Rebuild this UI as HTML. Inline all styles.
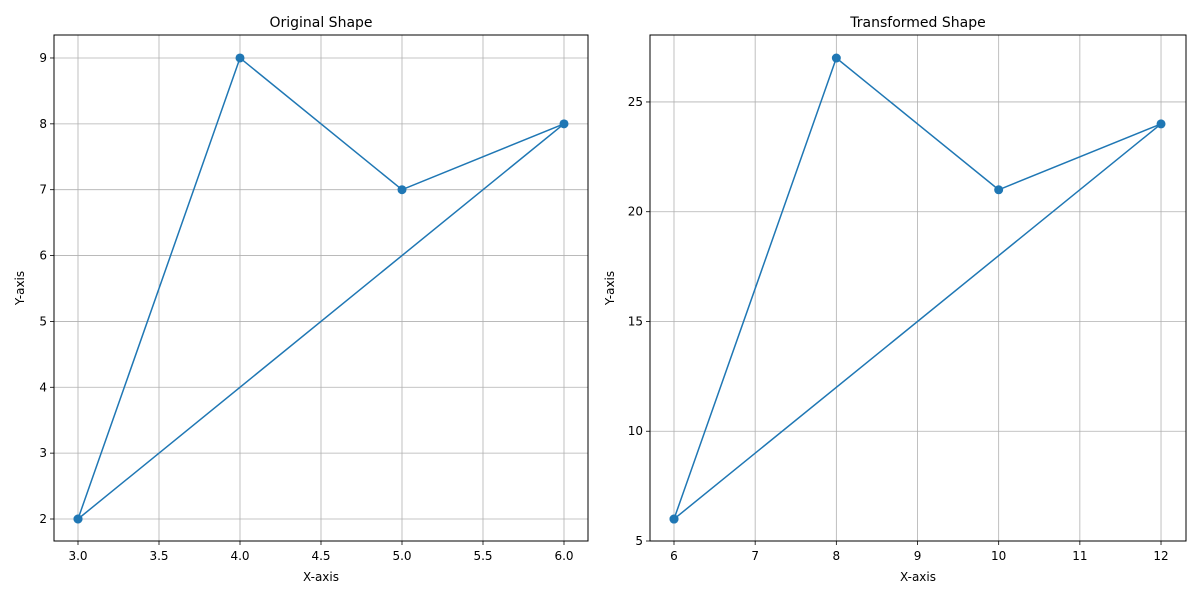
<!DOCTYPE html>
<html><head><meta charset="utf-8"><style>
body{margin:0;background:#fff;font-family:"Liberation Sans","DejaVu Sans",sans-serif;}
svg text{font-family:"DejaVu Sans","Liberation Sans",sans-serif;fill:#000;}
</style></head><body>
<svg id="c" width="1200" height="600"></svg>
<script>
const shapeX=[3,4,5,6,3];
const shapeY=[2,9,7,8,2];
const transX=[6,8,10,12,6];
const transY=[6,27,21,24,6];
const leftXTicks=[3.0,3.5,4.0,4.5,5.0,5.5,6.0];
const leftYTicks=[2,3,4,5,6,7,8,9];
const rightXTicks=[6,7,8,9,10,11,12];
const rightYTicks=[5,10,15,20,25];
const svg=document.getElementById('c');
const NS='http://www.w3.org/2000/svg';
function mk(t,a,p){const e=document.createElementNS(NS,t);for(const k in a)e.setAttribute(k,a[k]);p.appendChild(e);return e;}
function panel(name,title,xs,ys,xt,yt,box,xd,yd,xfmt){
 const g=mk('g',{},svg);
 
 
 const sx=v=>box.l+(v-xd[0])/(xd[1]-xd[0])*(box.r-box.l);
 const sy=v=>box.b-(v-yd[0])/(yd[1]-yd[0])*(box.b-box.t);
 xt.forEach(v=>{const x=sx(v);
  const l=mk('line',{x1:x,x2:x,y1:box.t,y2:box.b,stroke:'#b0b0b0','stroke-width':0.8},g);
  
  mk('line',{x1:x,x2:x,y1:box.b,y2:box.b+4,stroke:'#000','stroke-width':0.8},g);
  const t=mk('text',{x:x,y:box.b+19,'text-anchor':'middle','font-size':12},g);t.textContent=xfmt(v);
  });
 yt.forEach(v=>{const y=sy(v);
  const l=mk('line',{x1:box.l,x2:box.r,y1:y,y2:y,stroke:'#b0b0b0','stroke-width':0.8},g);
  
  mk('line',{x1:box.l-4,x2:box.l,y1:y,y2:y,stroke:'#000','stroke-width':0.8},g);
  const t=mk('text',{x:box.l-7,y:y+4,'text-anchor':'end','font-size':12},g);t.textContent=v;
  });
 const pts=xs.map((v,i)=>sx(v)+','+sy(ys[i])).join(' ');
 const pl=mk('polyline',{points:pts,fill:'none',stroke:'#1f77b4','stroke-width':1.5},g);
 
 xs.forEach((v,i)=>{const c=mk('circle',{cx:sx(v),cy:sy(ys[i]),r:4.5,fill:'#1f77b4'},g);
  });
 mk('rect',{x:box.l,y:box.t,width:box.r-box.l,height:box.b-box.t,fill:'none',stroke:'#000','stroke-width':1},g);
 const ti=mk('text',{x:(box.l+box.r)/2,y:box.t-8,'text-anchor':'middle','font-size':14},g);ti.textContent=title;
 
 const xl=mk('text',{x:(box.l+box.r)/2,y:box.b+40,'text-anchor':'middle','font-size':12},g);xl.textContent='X-axis';
 
 const yx=box.l-(name==='left-panel'?30:36),yy=(box.t+box.b)/2;
 const yl=mk('text',{x:yx,y:yy,'text-anchor':'middle','font-size':12,transform:`rotate(-90 ${yx} ${yy})`},g);yl.textContent='Y-axis';
 
}
// domains derived from pixel calibration
panel('left-panel','Original Shape',shapeX,shapeY,leftXTicks,leftYTicks,{l:54,r:588,t:35,b:541},
 [3-24/162,3+(588-78)/162],[2-22/65.86,2+(519-35)/65.86],v=>v.toFixed(1));
panel('right-panel','Transformed Shape',transX,transY,rightXTicks,rightYTicks,{l:650,r:1186,t:35,b:541},
 [6-24/81.17,6+(1186-674)/81.17],[5,6+(519-35)/21.95],v=>String(v));
</script>
</body></html>
